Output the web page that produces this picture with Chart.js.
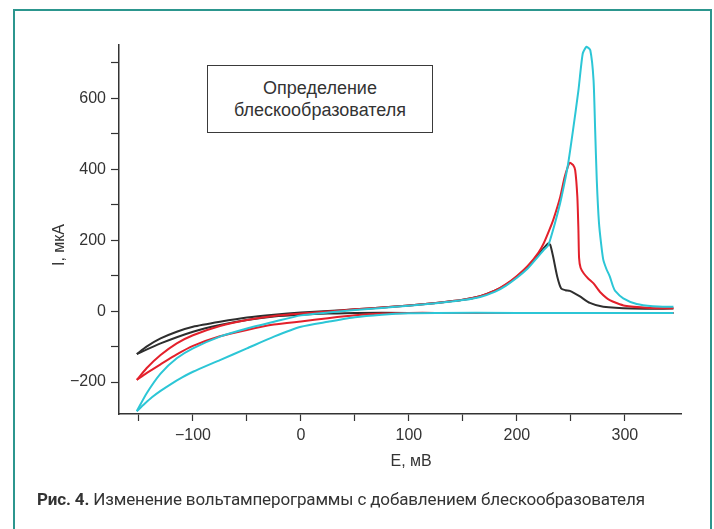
<!DOCTYPE html>
<html><head><meta charset="utf-8">
<script src="https://cdn.jsdelivr.net/npm/chart.js@4.4.0/dist/chart.umd.min.js"></script>
<style>
html,body{margin:0;padding:0;width:714px;height:529px;overflow:hidden;background:#fff;}
#frame{position:absolute;left:13px;top:9px;width:695px;height:600px;border:2px solid #2c968e;}
#wrap{position:absolute;left:0;top:0;width:714px;height:529px;}
#box{position:absolute;left:207px;top:65px;width:224px;height:66px;border:1px solid #3a3a3a;font:18px "Liberation Sans",Arial,sans-serif;color:#333;text-align:center;display:flex;flex-direction:column;justify-content:center;line-height:22px;background:#fff;}
#cap{position:absolute;left:37px;top:489px;font:17px Roboto,sans-serif;color:#333;line-height:20px;white-space:nowrap;letter-spacing:-0.15px;}
#cap b{font-weight:700;}
</style></head><body>
<div id="frame"></div>
<div id="wrap"><canvas id="c" width="714" height="529"></canvas></div>
<div id="box"><div>Определение</div><div>блескообразователя</div></div>
<div id="cap"><b>Рис. 4.</b> Изменение вольтамперограммы с добавлением блескообразователя</div>
<script>
// ---- data (E in mV, I in µA) ----
const blackFwdE = [-152,-143,-130,-115,-100,-75,-50,-25,0,25,50,75,100,125,150,166,180,190,200,210,220,225,229,231,233.6,237.4,241,245,249,258,267.6,280,307,345];
const blackFwdI = [-121,-100,-77,-58,-44,-30,-18,-10,-4,0,5,10,16,23,32,42,58,75,97,124,160,178,191,186,153,97,64,59,57,42,23,12,7,7];
const blackRevE = [345,300,200,100,50,25,0,-25,-50,-75,-100,-130,-152];
const blackRevI = [-5,-5,-5,-5,-5,-7,-10,-15,-25,-39,-58,-91,-121];

const redFwdE = [-152,-143,-130,-115,-100,-75,-50,-25,0,25,50,75,100,125,150,166,180,190,200,210,220,225,230,234,240,244,247,249,252,254,256,257,257.6,259,262,266,271,277,286,300,323,345];
const redFwdI = [-194,-161,-124,-91,-68,-42,-25,-14,-7,-1,5,10,16,23,32,42,58,76,99,127,165,192,228,260,320,375,405,418,412,397,322,228,150,122,106,92,78,54,31,15,9,8];
const redRevE = [345,300,200,125,100,75,50,25,0,-25,-50,-75,-100,-115,-130,-143,-152];
const redRevI = [-5,-5,-5,-5,-5,-7,-12,-20,-29,-38,-53,-71,-98,-122,-150,-175,-194];

const cyanFwdE = [-152,-143,-130,-115,-100,-75,-50,-25,0,25,50,75,100,125,150,166,180,190,200,210,220,225,229,235,240,244,247.5,252,257,261,264.5,268,271,272.5,274,276,278,280,283,286,289,291,298.5,311,326,345];
const cyanFwdI = [-282,-232,-176,-133,-105,-72,-49,-30,-12,-4,3,9,15,22,31,40,55,72,94,120,155,173,185,245,303,360,416,510,622,726,745,735,651,510,369,250,190,145,118,98,70,57,36,20,14,12];
const cyanRevE = [345,300,200,125,100,75,50,25,0,-25,-50,-75,-100,-110,-120,-130,-138,-145,-152];
const cyanRevI = [-5,-5,-5,-5,-6,-10,-17,-30,-44,-72,-105,-138,-171,-187,-205,-225,-243,-262,-282];

const xTicks = [-150,-100,-50,0,50,100,150,200,250,300];
const xLabeled = [-100,0,100,200,300];
const yTicks = [-200,-100,0,100,200,300,400,500,600,700];
const yLabeled = [-200,0,200,400,600];

function fmt(v){ return v < 0 ? '\u2212' + Math.abs(v) : String(v); }
function pts(E, I){ return E.map((x,i)=>({x, y:I[i]})); }
function ds(data, color){
  return {data, borderColor:color, borderWidth:2, pointRadius:0, showLine:true, tension:0.2, fill:false};
}
const tickFont = {family:'"Liberation Sans", Arial, sans-serif', size:16};
const axisCol = '#333';
const CYAN = '#2cc6d6', RED = '#e3202b', BLACK = '#2e2e2e';

// dataset 0 is drawn on top
new Chart(document.getElementById('c'), {
  type:'scatter',
  data:{datasets:[
    ds(pts(cyanFwdE,cyanFwdI), CYAN),
    ds(pts(cyanRevE,cyanRevI), CYAN),
    ds(pts(redFwdE,redFwdI), RED),
    ds(pts(redRevE,redRevI), RED),
    ds(pts(blackFwdE,blackFwdI), BLACK),
    ds(pts(blackRevE,blackRevI), BLACK)
  ]},
  options:{
    responsive:false, animation:false, devicePixelRatio:1,
    layout:{padding:{left:50, top:45, right:33, bottom:58}},
    plugins:{legend:{display:false}, tooltip:{enabled:false}},
    scales:{
      x:{type:'linear', min:-168.5, max:352,
        border:{display:true, color:axisCol, width:1.5},
        grid:{display:true, drawOnChartArea:false, drawTicks:true, tickLength:7, color:axisCol, tickWidth:1.2},
        ticks:{autoSkip:false, maxRotation:0, padding:5, font:tickFont, color:axisCol,
          callback:(v)=> xLabeled.includes(v) ? fmt(v) : ''},
        afterBuildTicks:(a)=>{ a.ticks = xTicks.map(v=>({value:v})); },
        afterFit:(a)=>{ a.height = 57; },
        title:{display:true, text:'     E, мВ', font:tickFont, color:axisCol, padding:0}
      },
      y:{type:'linear', min:-290, max:750,
        border:{display:true, color:axisCol, width:1.5},
        grid:{display:true, drawOnChartArea:false, drawTicks:true, tickLength:8, color:axisCol, tickWidth:1.2},
        ticks:{autoSkip:false, padding:5, font:tickFont, color:axisCol,
          callback:(v)=> yLabeled.includes(v) ? fmt(v) : ''},
        afterBuildTicks:(a)=>{ a.ticks = yTicks.map(v=>({value:v})); },
        afterFit:(a)=>{ a.width = 69; },
        title:{display:true, text:'I, мкА       ', font:tickFont, color:axisCol, padding:0}
      }
    }
  }
});
</script>
</body></html>
